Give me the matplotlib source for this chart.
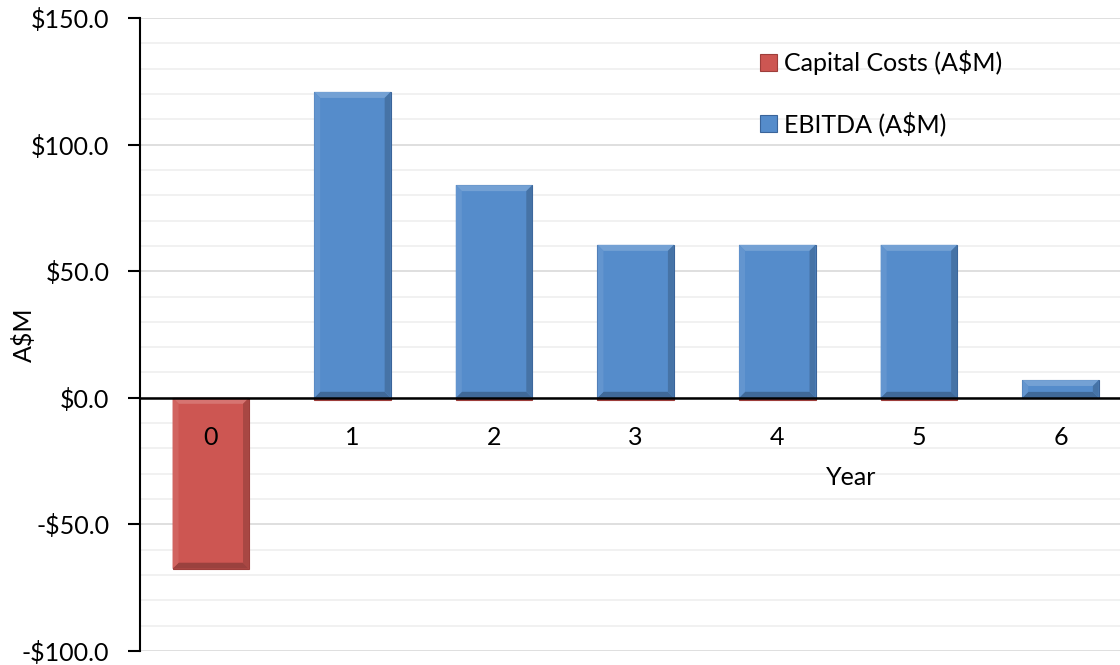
import matplotlib
matplotlib.use("Agg")
import matplotlib.pyplot as plt
import numpy as np
from matplotlib.ticker import MultipleLocator, FuncFormatter
from matplotlib.patches import Polygon
from matplotlib.transforms import IdentityTransform
import matplotlib.colors as mcolors

years = ["0", "1", "2", "3", "4", "5", "6"]
capital_costs = [-67.5, -1.0, -1.0, -1.0, -1.0, -1.0, 0.0]
ebitda = [0.0, 120.8, 84.0, 60.4, 60.4, 60.4, 7.0]

plt.rcParams['font.family'] = ['Lato', 'DejaVu Sans']

fig = plt.figure(figsize=(11.2, 6.65), dpi=100)
ax = fig.add_axes([140/1120, 1 - 651/665, 1 - 140/1120, (651-18)/665])

x = np.arange(len(years))
w = 0.54
red = '#CD5652'
blue = '#558CCB'
b1 = ax.bar(x, capital_costs, width=w, color=red, edgecolor='#9E3E3B', linewidth=0.8,
            label='Capital Costs (A$M)', zorder=3)
b2 = ax.bar(x, ebitda, width=w, color=blue, edgecolor='#3A649A', linewidth=0.8,
            label='EBITDA (A$M)', zorder=3)

ax.set_ylim(-100, 150)
ax.set_xlim(-0.5, 6.42)
ax.yaxis.set_major_locator(MultipleLocator(50))
ax.yaxis.set_minor_locator(MultipleLocator(10))
ax.yaxis.set_major_formatter(FuncFormatter(lambda v, p: ("-$%.1f" % abs(v)) if v < 0 else ("$%.1f" % v)))
ax.grid(axis='y', which='major', color='#D9D9D9', linewidth=1.2, zorder=0)
ax.grid(axis='y', which='minor', color='#EFEFEF', linewidth=1.2, zorder=0)
ax.tick_params(axis='y', which='major', length=9, width=1.5, labelsize=18, pad=13)
ax.tick_params(axis='y', which='minor', length=0)

for s in ['top', 'right', 'bottom']:
    ax.spines[s].set_visible(False)
ax.spines['left'].set_linewidth(1.5)
ax.axhline(0, color='black', linewidth=1.8, zorder=5)

ax.set_xticks([])
for xi, lab in zip(x, years):
    ax.text(xi, -15.5, lab, ha='center', va='center', fontsize=18, zorder=6)
ax.text(4.52, -31.5, 'Year', ha='center', va='center', fontsize=18)

ax.set_ylabel('A$M', fontsize=18)
ax.yaxis.set_label_coords(-0.106, 0.5)

leg = ax.legend(loc='upper left', bbox_to_anchor=(0.61, 0.985), frameon=False,
                fontsize=18, labelspacing=1.45, handlelength=0.65, handleheight=0.65,
                handletextpad=0.3)

# bevel effect derived from the drawn bars
fig.canvas.draw()
def shade(c, f):
    r, g, b = mcolors.to_rgb(c)
    if f > 0:
        return (r + (1 - r) * f, g + (1 - g) * f, b + (1 - b) * f)
    return (r * (1 + f), g * (1 + f), b * (1 + f))

for bars, col in ((b1, red), (b2, blue)):
    for p in bars:
        bb = p.get_window_extent()
        x0, x1, y0, y1 = bb.x0, bb.x1, bb.y0, bb.y1
        if y1 - y0 < 6:
            continue
        d = min(6, (y1 - y0) / 3)
        polys = [
            ([(x0, y1), (x1, y1), (x1 - d, y1 - d), (x0 + d, y1 - d)], shade(col, 0.18)),
            ([(x0, y0), (x1, y0), (x1 - d, y0 + d), (x0 + d, y0 + d)], shade(col, -0.25)),
            ([(x0, y0), (x0, y1), (x0 + d, y1 - d), (x0 + d, y0 + d)], shade(col, 0.08)),
            ([(x1, y0), (x1, y1), (x1 - d, y1 - d), (x1 - d, y0 + d)], shade(col, -0.18)),
        ]
        for pts, c in polys:
            ax.add_artist(Polygon(pts, closed=True, facecolor=c, edgecolor='none',
                                  transform=IdentityTransform(), zorder=4))

fig.savefig('out.png', dpi=100)
